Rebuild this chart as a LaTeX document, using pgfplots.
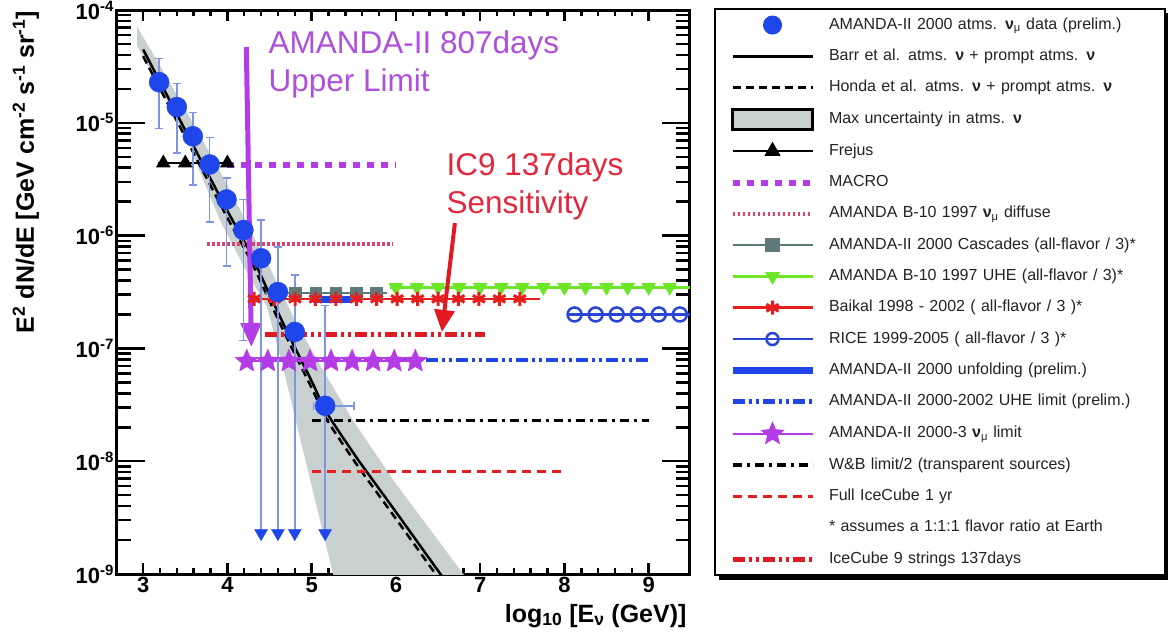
\documentclass[border=0pt]{standalone}
\usepackage{fontspec}
\setmainfont{Liberation Sans}
\usepackage{pgfplots}
\pgfplotsset{compat=1.18}
\usetikzlibrary{arrows.meta}
\definecolor{databl}{RGB}{30,70,235}
\definecolor{errbl}{RGB}{125,150,225}
\definecolor{amviolet}{RGB}{180,60,230}
\definecolor{txtviolet}{RGB}{175,80,220}
\definecolor{pinkd}{RGB}{215,70,110}
\definecolor{casgray}{RGB}{95,120,120}
\definecolor{uhegreen}{RGB}{110,230,40}
\definecolor{baikred}{RGB}{230,30,30}
\definecolor{riceblue}{RGB}{40,70,210}
\definecolor{bandgray}{RGB}{200,208,208}
\definecolor{ic9red}{RGB}{225,25,35}
\definecolor{txtred}{RGB}{225,40,60}
\definecolor{textgray}{RGB}{35,35,35}
\pgfdeclareplotmark{fstar}{%
  \pgfpathmoveto{\pgfpointpolar{90}{\pgfplotmarksize}}%
  \pgfpathlineto{\pgfpointpolar{126}{0.45\pgfplotmarksize}}%
  \pgfpathlineto{\pgfpointpolar{162}{\pgfplotmarksize}}%
  \pgfpathlineto{\pgfpointpolar{198}{0.45\pgfplotmarksize}}%
  \pgfpathlineto{\pgfpointpolar{234}{\pgfplotmarksize}}%
  \pgfpathlineto{\pgfpointpolar{270}{0.45\pgfplotmarksize}}%
  \pgfpathlineto{\pgfpointpolar{306}{\pgfplotmarksize}}%
  \pgfpathlineto{\pgfpointpolar{342}{0.45\pgfplotmarksize}}%
  \pgfpathlineto{\pgfpointpolar{18}{\pgfplotmarksize}}%
  \pgfpathlineto{\pgfpointpolar{54}{0.45\pgfplotmarksize}}%
  \pgfpathclose\pgfusepathqfillstroke}
\newcommand\ylab[1]{\textbf{10}\raisebox{8pt}{\fontsize{15}{15}\selectfont\bfseries #1}}
\pgfplotsset{
  mylegline/.style={legend image code/.code={\draw[mark repeat=2,mark phase=2,##1] plot coordinates {(0pt,0pt) (40pt,0pt) (80pt,0pt)};}},
  mylegmark/.style={legend image code/.code={\draw[##1] plot coordinates {(40pt,0pt)};}},
  mylegarea/.style={legend image code/.code={\draw[##1] (0pt,-10pt) rectangle (80pt,10pt);}},
}
\begin{document}
\begin{tikzpicture}
\useasboundingbox (0,0) rectangle (1171pt,641pt);
% legend shadow
\fill[black] (719pt,61pt) rectangle (1168pt,628pt);
\begin{axis}[
  at={(117pt,67pt)}, anchor=south west,
  scale only axis, width=573pt, height=564pt,
  xmin=2.69, xmax=9.49, ymin=1e-9, ymax=1e-4, ymode=log,
  xtick={3,4,5,6,7,8,9}, xticklabels={3,4,5,6,7,8,9}, minor x tick num=4,
  ytick={1e-9,1e-8,1e-7,1e-6,1e-5,1e-4},
  yticklabels={\ylab{-9},\ylab{-8},\ylab{-7},\ylab{-6},\ylab{-5},\ylab{-4}},
  minor ytick={2e-9,3e-9,4e-9,5e-9,6e-9,7e-9,8e-9,9e-9,
               2e-8,3e-8,4e-8,5e-8,6e-8,7e-8,8e-8,9e-8,
               2e-7,3e-7,4e-7,5e-7,6e-7,7e-7,8e-7,9e-7,
               2e-6,3e-6,4e-6,5e-6,6e-6,7e-6,8e-6,9e-6,
               2e-5,3e-5,4e-5,5e-5,6e-5,7e-5,8e-5,9e-5},
  tick align=inside,
  axis line style={line width=3pt},
  every tick/.append style={line width=2.5pt, black},
  major tick length=28pt, minor tick length=14pt,
  xtick style={/pgfplots/major tick length=11pt, /pgfplots/minor tick length=6pt},
  ticklabel style={font=\fontsize{22}{22}\selectfont\bfseries},
  every axis x label/.style={at={(axis description cs:1,-0.0851)}, anchor=base east},
  every axis y label/.style={at={(axis description cs:-0.1449,0.713)}, rotate=90, anchor=base},
  label style={font=\fontsize{25}{25}\selectfont\bfseries},
  xlabel={log\textsubscript{10} [E\textsubscript{ν} (GeV)]},
  ylabel={E\textsuperscript{2} dN/dE [GeV cm\textsuperscript{-2} s\textsuperscript{-1} sr\textsuperscript{-1}]},
  legend cell align=left,
  legend style={at={(axis description cs:1.0419,1.0035)}, anchor=north west,
    draw=black, line width=2pt, fill=white, inner xsep=14pt, inner ysep=5pt,
    row sep=9.3pt, column sep=10pt, font=\fontsize{16}{16}\selectfont, text=textgray,
    nodes={text width=319pt, text height=12pt, text depth=4pt, inner sep=3pt}},
]
% uncertainty band
\addplot[fill=bandgray, draw=none, forget plot] coordinates {(2.93,7.08e-5) (3.5,1.32e-5) (4.0,2.82e-6) (4.5,5.25e-7) (4.8,1.78e-7) (5.1,7.08e-8) (5.5,2.24e-8) (6.0,6.31e-9) (6.85,8.9e-10) (5.27,8.9e-10) (4.66,6.76e-8) (4.47,2.34e-7) (4.2,5.25e-7) (3.91,1.38e-6) (3.5,7.59e-6) (2.93,4.79e-5)} -- cycle;
% Barr & Honda
\addplot[black, line width=2.5pt, smooth, forget plot] coordinates {(3.0,4.47e-5) (3.5,8.6e-6) (4.0,1.66e-6) (4.27,7.08e-7) (4.5,3.02e-7) (4.74,1.26e-7) (5.0,5.13e-8) (5.18,2.69e-8) (5.5,1.17e-8) (5.66,7.94e-9) (6.0,3.55e-9) (6.52,1.02e-9) (6.6,8.5e-10)};
\addplot[black, line width=2.5pt, dash pattern=on 8pt off 5pt, smooth, forget plot] coordinates {(3.0,3.89e-5) (3.5,7.48e-6) (4.0,1.44e-6) (4.27,6.16e-7) (4.5,2.63e-7) (4.74,1.10e-7) (5.0,4.46e-8) (5.18,2.34e-8) (5.5,1.02e-8) (5.66,6.91e-9) (6.0,3.09e-9) (6.52,8.87e-10)};
% horizontal limits
\addplot[pinkd, line width=4pt, dash pattern=on 2.5pt off 2.5pt, forget plot] coordinates {(3.76,8.5e-7) (5.97,8.5e-7)};
\addplot[amviolet, line width=6pt, dash pattern=on 7pt off 7pt, forget plot] coordinates {(4.0,4.2e-6) (6.0,4.2e-6)};
\addplot[black, line width=2.5pt, mark=triangle*, mark size=6pt, mark indices={2,3,4,5}, mark options={solid}, forget plot] coordinates {(3.18,4.4e-6) (3.24,4.4e-6) (3.5,4.4e-6) (3.77,4.4e-6) (4.0,4.4e-6) (4.06,4.4e-6)};
\addplot[uhegreen, line width=2.5pt, mark=triangle*, mark size=6pt, mark options={rotate=180}, mark indices={2,3,4,5,6,7,8,9,10,11,12,13,14,15}, forget plot] coordinates {(5.93,3.48e-7) (6.0,3.48e-7) (6.25,3.48e-7) (6.5,3.48e-7) (6.75,3.48e-7) (7.0,3.48e-7) (7.25,3.48e-7) (7.5,3.48e-7) (7.75,3.48e-7) (8.0,3.48e-7) (8.25,3.48e-7) (8.5,3.48e-7) (8.75,3.48e-7) (9.0,3.48e-7) (9.25,3.48e-7) (9.49,3.48e-7)};
\addplot[casgray, line width=2.5pt, mark=square*, mark size=5pt, mark indices={2,3,4,5,6,7}, forget plot] coordinates {(4.45,3.1e-7) (4.57,3.1e-7) (4.81,3.1e-7) (5.05,3.1e-7) (5.29,3.1e-7) (5.53,3.1e-7) (5.77,3.1e-7) (5.9,3.1e-7)};
\addplot[baikred, line width=2.5pt, mark=asterisk, mark size=7pt, mark options={line width=3pt}, mark indices={2,3,4,5,6,7,8,9,10,11,12,13,14,15}, forget plot] coordinates {(4.31,2.75e-7) (4.3175,2.75e-7) (4.56,2.75e-7) (4.8025,2.75e-7) (5.045,2.75e-7) (5.2875,2.75e-7) (5.53,2.75e-7) (5.7725,2.75e-7) (6.015,2.75e-7) (6.2575,2.75e-7) (6.5,2.75e-7) (6.7425,2.75e-7) (6.985,2.75e-7) (7.2275,2.75e-7) (7.47,2.75e-7) (7.71,2.75e-7)};
\addplot[riceblue, line width=2.5pt, mark=o, mark size=7pt, mark options={line width=2.5pt}, mark indices={2,3,4,5,6,7}, forget plot] coordinates {(8.03,2.0e-7) (8.12,2.0e-7) (8.37,2.0e-7) (8.62,2.0e-7) (8.87,2.0e-7) (9.12,2.0e-7) (9.37,2.0e-7) (9.49,2.0e-7)};
\addplot[databl, line width=7pt, forget plot] coordinates {(5.02,2.7e-7) (5.48,2.7e-7)};
\addplot[databl, line width=4.5pt, dash pattern=on 12pt off 4pt on 3pt off 4pt on 3pt off 4pt, forget plot] coordinates {(6.0,7.9e-8) (9.0,7.9e-8)};
\addplot[black, line width=3.5pt, dash pattern=on 9pt off 5pt on 3pt off 5pt, forget plot] coordinates {(5.0,2.3e-8) (9.0,2.3e-8)};
\addplot[baikred, line width=3pt, dash pattern=on 9pt off 6pt, forget plot] coordinates {(5.0,8.1e-9) (8.0,8.1e-9)};
\addplot[ic9red, line width=5pt, dash pattern=on 12pt off 4pt on 3pt off 4pt on 3pt off 4pt, forget plot] coordinates {(4.45,1.32e-7) (7.06,1.32e-7)};
\addplot[amviolet, line width=2.5pt, mark=fstar, mark size=12pt, mark options={fill=amviolet, line width=0.5pt}, forget plot] coordinates {(4.23,7.7e-8) (4.48,7.7e-8) (4.73,7.7e-8) (4.98,7.7e-8) (5.23,7.7e-8) (5.48,7.7e-8) (5.73,7.7e-8) (5.98,7.7e-8) (6.23,7.7e-8)};
% arrows
\addplot[amviolet, line width=5pt, -{Triangle[length=24pt,width=20pt]}, forget plot] coordinates {(4.225,4.7e-5) (4.285,1.03e-7)};
\addplot[ic9red, line width=4pt, -{Triangle[length=22pt,width=20pt]}, forget plot] coordinates {(6.70,1.29e-6) (6.546,1.40e-7)};
% error bars
\addplot[errbl, line width=1.5pt, forget plot] coordinates {(3.19,8.9e-6) (3.19,3.72e-5)};
\addplot[errbl, line width=1.5pt, forget plot] coordinates {(3.40,5.4e-6) (3.40,2.24e-5)};
\addplot[errbl, line width=1.5pt, forget plot] coordinates {(3.59,2.8e-6) (3.59,1.23e-5)};
\addplot[errbl, line width=1.5pt, forget plot] coordinates {(3.79,1.32e-6) (3.79,7.4e-6)};
\addplot[errbl, line width=1.5pt, forget plot] coordinates {(3.99,5.4e-7) (3.99,3.24e-6)};
\addplot[errbl, line width=1.5pt, forget plot] coordinates {(4.19,1.17e-7) (4.19,2.09e-6)};
\addplot[errbl, line width=1.5pt, forget plot] coordinates {(4.40,2.3e-9) (4.40,1.38e-6)};
\addplot[errbl, line width=1.5pt, forget plot] coordinates {(4.60,2.3e-9) (4.60,7.9e-7)};
\addplot[errbl, line width=1.5pt, forget plot] coordinates {(4.80,2.3e-9) (4.80,4.47e-7)};
\addplot[errbl, line width=1.5pt, forget plot] coordinates {(5.16,2.3e-9) (5.16,2.4e-7)};
\addplot[errbl, line width=1.5pt, forget plot] coordinates {(5.02,3.1e-8) (5.50,3.1e-8)};
\addplot[errbl, only marks, mark=-, mark size=4pt, mark options={line width=1.5pt}, forget plot] coordinates {(3.19,8.9e-6) (3.19,3.72e-5) (3.40,5.4e-6) (3.40,2.24e-5) (3.59,2.8e-6) (3.59,1.23e-5) (3.79,1.32e-6) (3.79,7.4e-6) (3.99,5.4e-7) (3.99,3.24e-6) (4.19,1.17e-7) (4.19,2.09e-6) (4.40,1.38e-6) (4.60,7.9e-7) (4.80,4.47e-7) (5.16,2.4e-7)};
\addplot[errbl, only marks, mark=|, mark size=4pt, mark options={line width=1.5pt}, forget plot] coordinates {(5.02,3.1e-8) (5.50,3.1e-8)};
\addplot[only marks, mark=triangle*, mark size=7.5pt, mark options={rotate=180, fill=databl, draw=databl}, forget plot] coordinates {(4.40,2.3e-9) (4.60,2.3e-9) (4.80,2.3e-9) (5.16,2.3e-9)};
% data points
\addplot[only marks, mark=*, mark size=10pt, mark options={fill=databl, draw=databl}, forget plot] coordinates {(3.19,2.29e-5) (3.40,1.38e-5) (3.59,7.6e-6) (3.79,4.27e-6) (3.99,2.09e-6) (4.19,1.12e-6) (4.40,6.3e-7) (4.60,3.16e-7) (4.80,1.4e-7) (5.16,3.1e-8)};
% annotations
\node[anchor=base west, text=txtviolet, font=\fontsize{31.5}{31.5}\selectfont] at (axis cs:4.447,4.08e-5) {AMANDA-II 807days};
\node[anchor=base west, text=txtviolet, font=\fontsize{31.5}{31.5}\selectfont] at (axis cs:4.447,1.88e-5) {Upper Limit};
\node[anchor=base west, text=txtred, font=\fontsize{31.5}{31.5}\selectfont] at (axis cs:6.559,3.44e-6) {IC9 137days};
\node[anchor=base west, text=txtred, font=\fontsize{31.5}{31.5}\selectfont] at (axis cs:6.559,1.585e-6) {Sensitivity};
% legend
\addlegendimage{mylegmark, only marks, mark=*, mark size=9pt, mark options={fill=databl, draw=databl}, line width=1pt}
\addlegendentry{AMANDA-II 2000 atms. {\bfseries ν}\textsubscript{μ} data (prelim.)}
\addlegendimage{mylegline, black, line width=2.5pt}
\addlegendentry{Barr et al. atms. {\bfseries ν} + prompt atms. {\bfseries ν}}
\addlegendimage{mylegline, black, line width=2.5pt, dash pattern=on 8pt off 5pt}
\addlegendentry{Honda et al. atms. {\bfseries ν} + prompt atms. {\bfseries ν}}
\addlegendimage{mylegarea, fill=bandgray, draw=black, line width=3pt}
\addlegendentry{Max uncertainty in atms. {\bfseries ν}}
\addlegendimage{mylegline, black, line width=2.5pt, mark=triangle*, mark size=7pt}
\addlegendentry{Frejus}
\addlegendimage{mylegline, amviolet, line width=6pt, dash pattern=on 7pt off 7pt}
\addlegendentry{MACRO}
\addlegendimage{mylegline, pinkd, line width=4pt, dash pattern=on 2.5pt off 2.5pt}
\addlegendentry{AMANDA B-10 1997 {\bfseries ν}\textsubscript{μ} diffuse}
\addlegendimage{mylegline, casgray, line width=2.5pt, mark=square*, mark size=6pt}
\addlegendentry{AMANDA-II 2000 Cascades (all-flavor / 3)*}
\addlegendimage{mylegline, uhegreen, line width=2.5pt, mark=triangle*, mark size=6pt, mark options={rotate=180}}
\addlegendentry{AMANDA B-10 1997 UHE (all-flavor / 3)*}
\addlegendimage{mylegline, baikred, line width=2.5pt, mark=asterisk, mark size=7pt, mark options={line width=3pt}}
\addlegendentry{Baikal 1998 - 2002 ( all-flavor / 3 )*}
\addlegendimage{mylegline, riceblue, line width=2.5pt, mark=o, mark size=6pt}
\addlegendentry{RICE 1999-2005 ( all-flavor / 3 )*}
\addlegendimage{mylegline, databl, line width=7pt}
\addlegendentry{AMANDA-II 2000 unfolding (prelim.)}
\addlegendimage{mylegline, databl, line width=4.5pt, dash pattern=on 12pt off 4pt on 3pt off 4pt on 3pt off 4pt}
\addlegendentry{AMANDA-II 2000-2002 UHE limit (prelim.)}
\addlegendimage{mylegline, amviolet, line width=2.5pt, mark=fstar, mark size=12pt, mark options={fill=amviolet, line width=0.5pt}}
\addlegendentry{AMANDA-II 2000-3 {\bfseries ν}\textsubscript{μ} limit}
\addlegendimage{mylegline, black, line width=4pt, dash pattern=on 9pt off 5pt on 3pt off 5pt}
\addlegendentry{W\&B limit/2 (transparent sources)}
\addlegendimage{mylegline, baikred, line width=3pt, dash pattern=on 9pt off 6pt}
\addlegendentry{Full IceCube 1 yr}
\addlegendimage{empty legend}
\addlegendentry{* assumes a 1:1:1 flavor ratio at Earth}
\addlegendimage{mylegline, ic9red, line width=5pt, dash pattern=on 12pt off 4pt on 3pt off 4pt on 3pt off 4pt}
\addlegendentry{IceCube 9 strings 137days}
\end{axis}
\end{tikzpicture}
\end{document}
